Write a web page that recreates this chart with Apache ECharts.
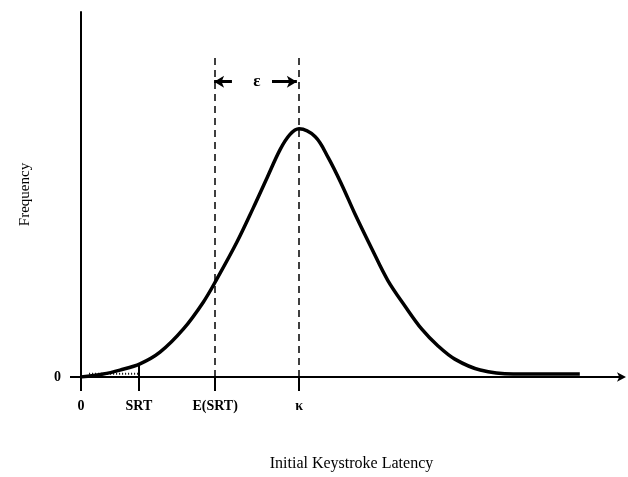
<!DOCTYPE html>
<html lang="en" style="height: 100%">
<head>
    <meta charset="UTF-8">
    <title>Initial Keystroke Latency</title>
    <script src="https://cdn.jsdelivr.net/npm/echarts@6/dist/echarts.min.js"></script>
</head>
<body style="height: 100%; margin: 0; background: #fff">
<div id="container" style="width: 628px; height: 477px"></div>

<script type="text/javascript">
    // latency (arbitrary units, 0..100) vs frequency (0..100)
    var latency = [0, 4.1, 7.2, 10.9, 14.6, 18.9, 22.6, 25.1, 28.8, 31.8, 34.4, 36.8, 38.6, 40.3,
        43.3, 45.7, 48.2, 50.6, 53.8, 56.7, 59.9, 63.0, 66.0, 69.1, 73.8, 79.9, 92.2];
    var frequency = [0, 0.8, 1.9, 3.6, 6.8, 13.1, 20.5, 26.8, 36.9, 46.2, 54.6, 62.3, 66.4, 68.0,
        65.8, 60.1, 52.7, 44.8, 35.0, 26.5, 19.4, 13.1, 8.5, 4.9, 1.9, 0.8, 0.8];

    var tickValues = [0, 10.7, 24.8, 40.3];
    var tickLabels = ['0', 'SRT', 'E(SRT)', '\u03ba'];

    var srt = 10.7, srtCurve = 3.5;
    var dashTop = 87.7;
    var epsY = 80.9;
    var epsLeft = [27.9, 24.6];
    var epsRight = [35.3, 39.9];
    var epsMid = 32.5;

    var font = '"Liberation Serif", "DejaVu Serif", serif';

    var curve = latency.map(function (x, i) { return [x, frequency[i]]; });

    var dom = document.getElementById("container");
    var myChart = echarts.init(dom, null, {renderer: 'canvas'});

    var option = {
        backgroundColor: '#fff',
        animation: false,
        grid: {left: 81, right: 6, top: 12, bottom: 99},
        xAxis: {
            type: 'value',
            min: 0,
            max: 100,
            name: 'Initial Keystroke Latency',
            nameLocation: 'middle',
            nameGap: 79,
            nameTextStyle: {fontFamily: font, fontSize: 16, color: '#000'},
            splitLine: {show: false},
            axisLine: {
                lineStyle: {color: '#000', width: 2},
                symbol: ['none', 'arrow'],
                symbolSize: [7, 9],
                symbolOffset: [0, 4]
            },
            axisTick: {
                show: true,
                customValues: tickValues,
                length: 14,
                inside: false,
                lineStyle: {color: '#000', width: 2}
            },
            axisLabel: {
                customValues: tickValues,
                margin: 22,
                fontFamily: font,
                fontSize: 14,
                fontWeight: 'bold',
                color: '#000',
                formatter: function (v) {
                    var i = tickValues.indexOf(v);
                    return i >= 0 ? tickLabels[i] : '';
                }
            }
        },
        yAxis: {
            type: 'value',
            min: 0,
            max: 100,
            name: 'Frequency',
            nameLocation: 'middle',
            nameGap: 48,
            nameTextStyle: {fontFamily: font, fontSize: 15, color: '#000'},
            splitLine: {show: false},
            axisLine: {show: true, lineStyle: {color: '#000', width: 2}},
            axisTick: {
                show: true,
                customValues: [0],
                length: 11,
                lineStyle: {color: '#000', width: 2}
            },
            axisLabel: {
                customValues: [0],
                margin: 20,
                fontFamily: font,
                fontSize: 14,
                fontWeight: 'bold',
                color: '#000'
            }
        },
        series: [
            {
                name: 'latency',
                type: 'line',
                data: curve,
                smooth: 0.35,
                showSymbol: false,
                lineStyle: {color: '#000', width: 3.5},
                markLine: {
                    silent: true,
                    symbol: ['none', 'none'],
                    label: {show: false},
                    lineStyle: {color: '#000', width: 1.5, type: [7, 5]},
                    data: [
                        [{coord: [tickValues[2], 0]}, {coord: [tickValues[2], dashTop]}],
                        [{coord: [tickValues[3], 0]}, {coord: [tickValues[3], dashTop]}],
                        [{coord: [srt, 0], lineStyle: {type: 'solid', width: 2}},
                            {coord: [srt, srtCurve]}],
                        [{coord: [epsLeft[0], epsY], symbol: 'none', lineStyle: {type: 'solid', width: 3}},
                            {coord: [epsLeft[1], epsY], symbol: 'arrow', symbolSize: [9, 10]}],
                        [{coord: [epsRight[0], epsY], symbol: 'none', lineStyle: {type: 'solid', width: 3}},
                            {coord: [epsRight[1], epsY], symbol: 'arrow', symbolSize: [9, 10]}]
                    ]
                },
                markPoint: {
                    silent: true,
                    symbolSize: 0,
                    label: {
                        show: true,
                        position: 'inside',
                        formatter: '\u03b5',
                        fontFamily: font,
                        fontSize: 17,
                        fontWeight: 'bold',
                        color: '#000'
                    },
                    data: [{coord: [epsMid, epsY]}]
                }
            },
            {
                name: 'srt shading',
                type: 'line',
                data: [[1.5, 0.9], [srt, 0.9]],
                showSymbol: false,
                silent: true,
                lineStyle: {color: '#000', width: 2, type: [1, 2]}
            }
        ]
    };
    myChart.setOption(option, true);
</script>
</body>
</html>
